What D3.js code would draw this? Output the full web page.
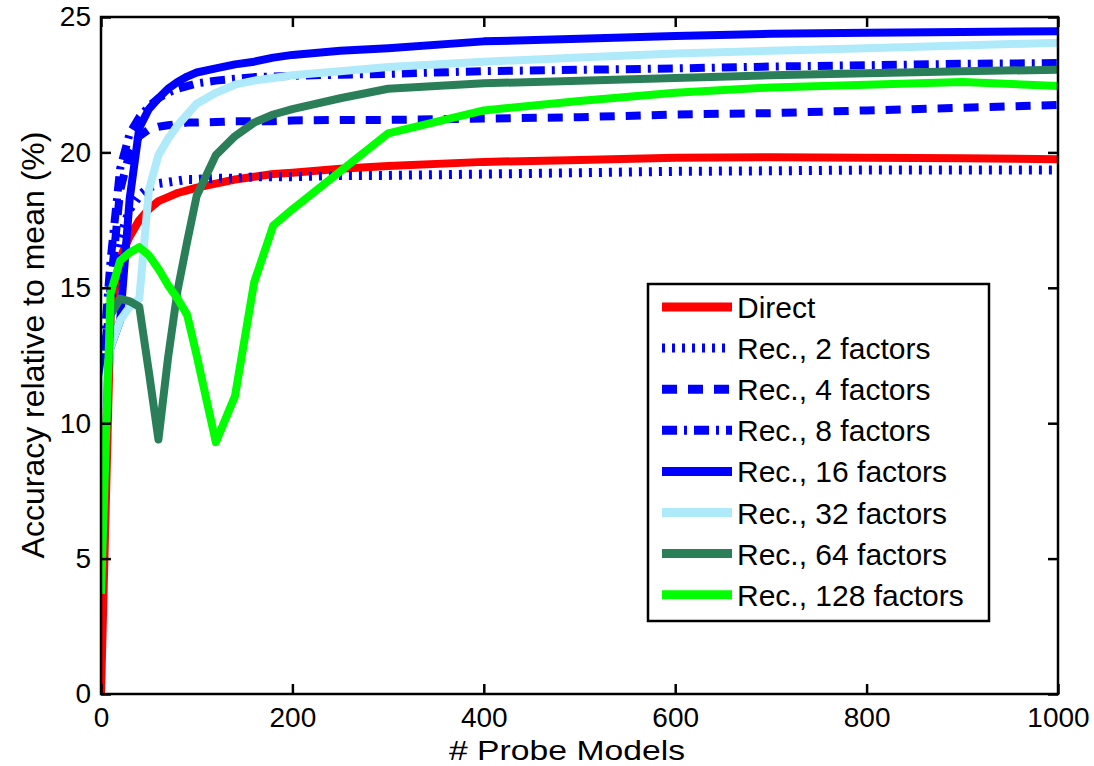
<!DOCTYPE html>
<html>
<head>
<meta charset="utf-8">
<script src="https://cdn.jsdelivr.net/npm/d3@7"></script>
<style>
  body { margin: 0; background: #fff; }
  text { font-family: "Liberation Sans", Arial, sans-serif; fill: #000; }
</style>
</head>
<body>
<div id="root"></div>
<script>
// shared sample grid (# probe models)
var probeModels = [0, 10, 20, 30, 40, 50, 60, 70, 80, 90, 100, 120, 140, 160, 180, 200, 250, 300, 400, 500, 600, 700, 800, 900, 1000];

var direct    = [0, 14.0, 16.1, 16.9, 17.5, 17.9, 18.2, 18.35, 18.5, 18.6, 18.7, 18.85, 19.0, 19.1, 19.2, 19.25, 19.4, 19.5, 19.65, 19.72, 19.8, 19.82, 19.8, 19.78, 19.75];
var rec2      = [11, 14.5, 16.8, 17.9, 18.4, 18.7, 18.85, 18.9, 18.95, 19.0, 19.0, 19.05, 19.05, 19.1, 19.1, 19.1, 19.15, 19.15, 19.2, 19.25, 19.3, 19.32, 19.35, 19.35, 19.35];
var rec4      = [11, 15.0, 18.6, 20.0, 20.6, 20.85, 20.95, 21.0, 21.05, 21.1, 21.1, 21.12, 21.15, 21.15, 21.15, 21.18, 21.2, 21.2, 21.25, 21.3, 21.4, 21.45, 21.55, 21.65, 21.75];
var rec8      = [11.5, 16.0, 19.4, 20.7, 21.3, 21.7, 22.0, 22.2, 22.35, 22.45, 22.55, 22.65, 22.72, 22.78, 22.8, 22.83, 22.87, 22.9, 23.0, 23.05, 23.1, 23.17, 23.22, 23.27, 23.3];
var rec16     = [11.5, 12.8, 13.8, 18.3, 20.9, 21.6, 22.0, 22.35, 22.6, 22.8, 22.95, 23.1, 23.25, 23.35, 23.5, 23.6, 23.75, 23.85, 24.1, 24.2, 24.3, 24.38, 24.42, 24.45, 24.47];
var rec32     = [10.5, 12.8, 13.8, 14.3, 14.6, 18.6, 19.9, 20.5, 21.0, 21.4, 21.8, 22.2, 22.5, 22.65, 22.75, 22.85, 23.0, 23.15, 23.35, 23.5, 23.65, 23.75, 23.85, 23.95, 24.05];
var rec64     = [5, 14.0, 14.6, 14.5, 14.3, 11.9, 9.4, 12.4, 14.9, 16.7, 18.4, 19.9, 20.6, 21.1, 21.4, 21.6, 22.0, 22.35, 22.55, 22.65, 22.75, 22.85, 22.92, 23.0, 23.05];
var rec128    = [3.7, 14.8, 16.0, 16.3, 16.5, 16.2, 15.7, 15.1, 14.6, 14.0, 12.5, 9.3, 11.0, 15.2, 17.3, 17.9, 19.3, 20.7, 21.55, 21.9, 22.2, 22.4, 22.5, 22.6, 22.45];

var seriesNames = ["Direct", "Rec., 2 factors", "Rec., 4 factors", "Rec., 8 factors", "Rec., 16 factors", "Rec., 32 factors", "Rec., 64 factors", "Rec., 128 factors"];
var seriesValues = [direct, rec2, rec4, rec8, rec16, rec32, rec64, rec128];
var seriesColors = ["#ff0000", "#0000ff", "#0000ff", "#0000ff", "#0000ff", "#aeeafa", "#2b7f58", "#00ff00"];
var seriesDash = [null, "3,7", "15,11", "15,7,3,7", null, null, null, null];

var xTicks = [0, 200, 400, 600, 800, 1000];
var yTicks = [0, 5, 10, 15, 20, 25];

var width = 1094, height = 766;

var svg = d3.select("#root").append("svg")
    .attr("width", width)
    .attr("height", height);

svg.append("rect").attr("width", width).attr("height", height).attr("fill", "#fff");

var x = d3.scaleLinear().domain([0, 1000]).range([101, 1058]);
var y = d3.scaleLinear().domain([0, 25]).range([694, 17]);

svg.append("clipPath").attr("id", "plotclip")
  .append("rect")
    .attr("x", x(0)).attr("y", y(25))
    .attr("width", x(1000) - x(0)).attr("height", y(0) - y(25));

var line = d3.line()
    .x(function(d) { return x(d[0]); })
    .y(function(d) { return y(d[1]); });

var lines = svg.append("g").attr("clip-path", "url(#plotclip)");

seriesValues.forEach(function(vals, i) {
    var pts = probeModels.map(function(p, j) { return [p, vals[j]]; });
    lines.append("path")
        .datum(pts)
        .attr("d", line)
        .attr("fill", "none")
        .attr("stroke", seriesColors[i])
        .attr("stroke-width", i == 1 ? 9 : 8)
        .attr("stroke-dasharray", seriesDash[i])
        .attr("stroke-linejoin", "round");
});

// axes, MATLAB style: inward ticks on all four sides
function styleAxis(g) {
    g.select(".domain").remove();
    g.selectAll(".tick line").attr("stroke", "#000").attr("stroke-width", 2.5);
    g.selectAll(".tick text").attr("font-size", 28).attr("font-family", "Liberation Sans, Arial, sans-serif");
}

svg.append("g")
    .attr("transform", "translate(0," + y(0) + ")")
    .call(d3.axisBottom(x).tickValues(xTicks).tickFormat(d3.format("d")).tickSizeInner(-10).tickSizeOuter(0).tickPadding(13))
    .call(styleAxis);

svg.append("g")
    .attr("transform", "translate(" + x(0) + ",0)")
    .call(d3.axisLeft(y).tickValues(yTicks).tickSizeInner(-10).tickSizeOuter(0).tickPadding(10))
    .call(styleAxis);

svg.append("g")
    .attr("transform", "translate(0," + y(25) + ")")
    .call(d3.axisTop(x).tickValues(xTicks).tickSizeInner(-10).tickSizeOuter(0).tickFormat(""))
    .call(styleAxis);

svg.append("g")
    .attr("transform", "translate(" + x(1000) + ",0)")
    .call(d3.axisRight(y).tickValues(yTicks).tickSizeInner(-10).tickSizeOuter(0).tickFormat(""))
    .call(styleAxis);

svg.append("rect")
    .attr("x", x(0)).attr("y", y(25))
    .attr("width", x(1000) - x(0)).attr("height", y(0) - y(25))
    .attr("fill", "none")
    .attr("stroke", "#000")
    .attr("stroke-width", 2.5);

// axis titles
svg.append("text")
    .attr("x", 567).attr("y", 760)
    .attr("text-anchor", "middle")
    .attr("font-size", 28)
    .attr("textLength", 236)
    .attr("lengthAdjust", "spacingAndGlyphs")
    .text("# Probe Models");

svg.append("text")
    .attr("transform", "translate(44,345) rotate(-90)")
    .attr("text-anchor", "middle")
    .attr("font-size", 32)
    .text("Accuracy relative to mean (%)");

// legend
var legend = svg.append("g");
legend.append("rect")
    .attr("x", 648).attr("y", 284)
    .attr("width", 341).attr("height", 337)
    .attr("fill", "#fff")
    .attr("stroke", "#000")
    .attr("stroke-width", 2.5);

seriesNames.forEach(function(name, i) {
    var ry = 307 + i * 41.1;
    legend.append("line")
        .attr("x1", 662).attr("x2", 732)
        .attr("y1", ry).attr("y2", ry)
        .attr("stroke", seriesColors[i])
        .attr("stroke-width", 9)
        .attr("stroke-dasharray", seriesDash[i]);
    legend.append("text")
        .attr("x", 737).attr("y", ry + 11)
        .attr("font-size", 30)
        .text(name);
});
</script>
</body>
</html>
